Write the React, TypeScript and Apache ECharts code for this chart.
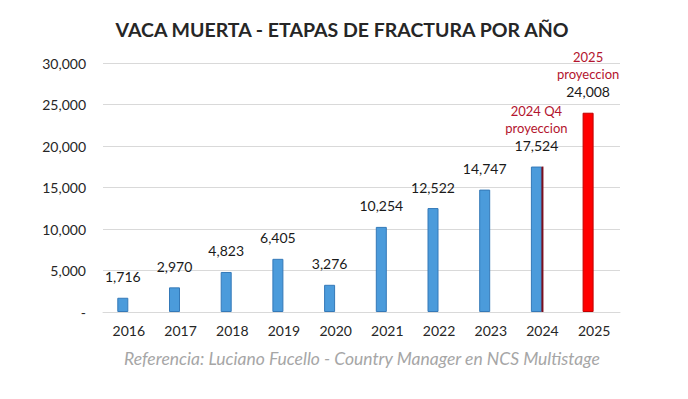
import React, { useEffect, useRef } from "react";
import * as echarts from "echarts";

const years = ["2016", "2017", "2018", "2019", "2020", "2021", "2022", "2023", "2024", "2025"];
const etapas = [1716, 2970, 4823, 6405, 3276, 10254, 12522, 14747, 17524, 24008];
const projectionLabels: Record<string, string[]> = {
  "2024": ["2024 Q4", "proyeccion"],
  "2025": ["2025", "proyeccion"],
};
const yTicks = { min: 0, max: 30000, interval: 5000 };

const FONT = "Lato";
const fmt = (v: number) => v.toLocaleString("en-US");

export default function App() {
  const ref = useRef<HTMLDivElement>(null);
  useEffect(() => {
    document.body.style.margin = "0";
    const chart = echarts.init(ref.current!, undefined, { renderer: "svg" });
    const mainData = etapas.map((v, i) => {
      const y = years[i];
      const item: any = { value: v };
      if (y === "2025") {
        item.itemStyle = { color: "#ff0000", borderColor: "#c00000", borderWidth: 1 };
      }
      if (projectionLabels[y]) {
        const [a, b] = projectionLabels[y];
        item.label = {
          formatter: `{p|${a}}\n{p|${b}}\n{v|${fmt(v)}}`,
        };
      }
      return item;
    });
    const markData = years.map((y, i) => (y === "2024" ? etapas[i] : null));
    chart.setOption({
      animation: false,
      backgroundColor: "#ffffff",
      title: {
        text: "VACA MUERTA - ETAPAS DE FRACTURA POR AÑO",
        left: 337,
        textAlign: "center",
        top: 14,
        textStyle: { fontFamily: FONT, fontSize: 19.5, fontWeight: "bold", color: "#262626" },
      },
      grid: { left: 103, right: 68, top: 63, bottom: 87, containLabel: false },
      xAxis: [
        {
          type: "category",
          data: years,
          axisLine: { lineStyle: { color: "#d9d9d9" } },
          axisTick: { show: false },
          axisLabel: { fontFamily: FONT, fontSize: 14, color: "#262626", margin: 11 },
        },
        {
          type: "category",
          data: years,
          show: false,
          position: "bottom",
        },
      ],
      yAxis: {
        type: "value",
        min: yTicks.min,
        max: yTicks.max,
        interval: yTicks.interval,
        axisLine: { show: false },
        axisTick: { show: false },
        splitLine: { lineStyle: { color: "#d9d9d9" } },
        axisLabel: {
          fontFamily: FONT,
          fontSize: 14,
          color: "#262626",
          margin: 17,
          formatter: (v: number) => (v === 0 ? "-" : fmt(v)),
        },
      },
      series: [
        {
          type: "bar",
          xAxisIndex: 0,
          data: mainData,
          barWidth: 11,
          barGap: "10%",
          itemStyle: { color: "#4b9bdb", borderColor: "#3479b8", borderWidth: 1 },
          label: {
            show: true,
            position: "top",
            distance: 12,
            fontFamily: FONT,
            fontSize: 14,
            color: "#1a1a1a",
            formatter: (p: any) => fmt(p.value),
            lineHeight: 18,
            rich: {
              p: { fontFamily: FONT, fontSize: 13, color: "#b3142e", lineHeight: 17 },
              v: { fontFamily: FONT, fontSize: 14, color: "#1a1a1a", lineHeight: 18 },
            },
          },
          z: 2,
        },
        {
          type: "bar",
          xAxisIndex: 0,
          data: years.map(() => null),
          barWidth: 11,
        },
        {
          type: "bar",
          xAxisIndex: 1,
          data: markData,
          barWidth: 2,
          itemStyle: { color: "#7b0f1e" },
          z: 3,
        },
      ],
      graphic: [
        {
          type: "text",
          x: 362,
          y: 358,
          style: {
            text: "Referencia: Luciano Fucello - Country Manager en NCS Multistage",
            fontFamily: FONT,
            fontStyle: "italic",
            fontSize: 17.5,
            fill: "#a6a6a6",
            textAlign: "center",
            textVerticalAlign: "middle",
          },
        },
      ],
    });
    return () => chart.dispose();
  }, []);
  return <div ref={ref} style={{ width: 688, height: 399 }} />;
}
